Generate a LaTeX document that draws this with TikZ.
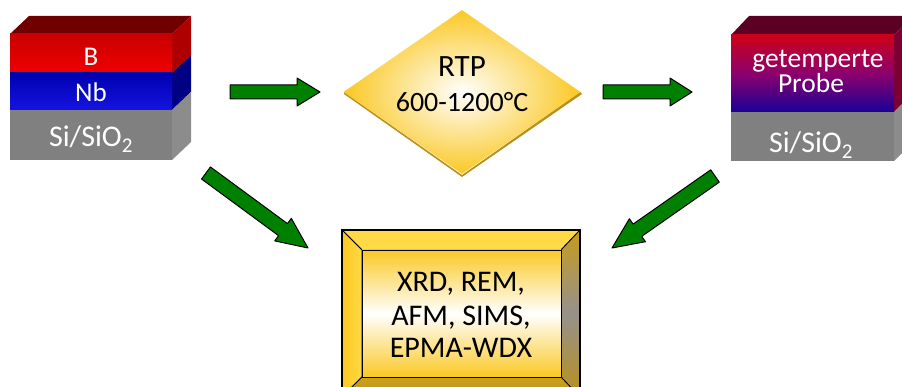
\documentclass[tikz,border=0pt]{standalone}
\usepackage{fontspec}
\setmainfont{Carlito}
\usetikzlibrary{calc,shapes.geometric}
\definecolor{arrgreen}{RGB}{0,128,0}
\definecolor{bred}{RGB}{240,0,0}
\definecolor{bredtop}{RGB}{200,0,0}
\definecolor{bside}{RGB}{175,0,0}
\definecolor{btop}{RGB}{112,0,0}
\definecolor{nbblue}{RGB}{20,20,225}
\definecolor{nbbluetop}{RGB}{0,0,175}
\definecolor{nbside}{RGB}{0,0,130}
\definecolor{sigray}{RGB}{128,128,128}
\definecolor{siside}{RGB}{140,140,140}
\definecolor{prred}{RGB}{205,0,25}
\definecolor{prmid}{RGB}{140,0,110}
\definecolor{prblue}{RGB}{25,0,150}
\definecolor{prtop}{RGB}{92,0,35}
\definecolor{prside}{RGB}{125,0,50}
\definecolor{gold}{RGB}{250,200,35}
\definecolor{goldlight}{RGB}{255,218,70}
\definecolor{golddark}{RGB}{185,145,25}
\definecolor{goldgray}{RGB}{150,145,140}
\tikzset{
  blockarrowstyle/.style={fill=arrgreen, draw=black, line width=1pt, line join=round},
  whitetext/.style={text=white, inner sep=0pt, anchor=base},
  blacktext/.style={text=black, inner sep=0pt, anchor=base},
  bevel/.style={draw=black, line width=0.8pt, line join=miter},
}
% #1 start, #2 tip, #3 head length, #4 head half width, #5 shaft half width
\newcommand\blockarrow[5]{%
  \coordinate (hb) at ($(#2)!#3!(#1)$);
  \draw[blockarrowstyle] ($(#1)!#5!90:(#2)$) -- ($(hb)!#5!90:(#2)$) -- ($(hb)!#4!90:(#2)$)
    -- (#2) -- ($(hb)!#4!-90:(#2)$) -- ($(hb)!#5!-90:(#2)$) -- ($(#1)!#5!-90:(#2)$) -- cycle;}
\begin{document}
\begin{tikzpicture}[x=1pt,y=-1pt]
\useasboundingbox (0,0) rectangle (902,387);
\clip (0,0) rectangle (902,387);

% ---------- left sample ----------
\node[minimum width=182pt, minimum height=144pt, inner sep=0pt] (sample) at (100,88) {};
\fill[btop] (10,34) -- (29,16) -- (191,16) -- (172,34) -- cycle;
\fill[bside] (172,34) -- (191,16) -- (191,55) -- (172,73) -- cycle;
\fill[nbside] (172,73) -- (191,55) -- (191,92) -- (172,110) -- cycle;
\fill[siside] (172,110) -- (191,92) -- (191,142) -- (172,160) -- cycle;
\shade[top color=bredtop, bottom color=bred] (10,34) rectangle (172,73);
\shade[top color=nbbluetop, bottom color=nbblue] (10,73) rectangle (172,110);
\fill[sigray] (10,110) rectangle (172,160);
\node[whitetext, font=\fontsize{27pt}{29pt}\selectfont] (lb) at (91,66) {B};
\node[whitetext, font=\fontsize{27pt}{29pt}\selectfont] (lnb) at (91,102) {Nb};
\node[whitetext, font=\fontsize{30pt}{32pt}\selectfont] (lsi) at (91,147) {Si/SiO\textsubscript{2}};

% ---------- RTP diamond ----------
\coordinate (dc) at (462,92);
\fill[golddark] (344,94) -- (462,177) -- (582,94) -- (580,92) -- (462,175) -- (344,92) -- cycle;
\node[diamond, inner sep=0pt, minimum width=237pt, minimum height=164pt,
      inner color=white, outer color=gold] (rtp) at (dc) {};
\node[blacktext, font=\fontsize{31pt}{33pt}\selectfont] (rtpa) at (462,77) {RTP};
\node[blacktext, font=\fontsize{28pt}{30pt}\selectfont] (rtpb) at (462,112) {600-1200°C};

% ---------- right sample ----------
\node[minimum width=182pt, minimum height=144pt, inner sep=0pt] (probe) at (820,88) {};
\fill[prtop] (731,35) -- (749,16) -- (912,16) -- (894,35) -- cycle;
\fill[prside] (894,35) -- (912,16) -- (912,94) -- (894,112) -- cycle;
\fill[siside] (894,112) -- (912,94) -- (912,143) -- (894,161) -- cycle;
\shade[top color=prred, bottom color=prblue, middle color=prmid] (731,35) rectangle (894,112);
\fill[sigray] (731,112) rectangle (894,161);
\node[whitetext, font=\fontsize{27.5pt}{29pt}\selectfont] (pa) at (818,68) {getemperte};
\node[whitetext, font=\fontsize{27.5pt}{29pt}\selectfont] (pb) at (811,93) {Probe};
\node[whitetext, font=\fontsize{30pt}{32pt}\selectfont] (psi) at (811,153) {Si/SiO\textsubscript{2}};

% ---------- analysis box ----------
\node[minimum width=238pt, minimum height=167pt, inner sep=0pt] (ana) at (461,313) {};
\fill[goldlight, bevel] (342,230) -- (580,230) -- (561,250) -- (362,250) -- cycle;
\shade[bevel, left color=gold, right color=goldlight] (342,230) -- (362,250) -- (362,377) -- (342,397) -- cycle;
\shade[bevel, top color=golddark!80!gold, bottom color=golddark, middle color=goldgray] (580,230) -- (580,397) -- (561,377) -- (561,250) -- cycle;
\shade[bevel, top color=golddark!70!gold, bottom color=golddark] (362,377) -- (561,377) -- (580,397) -- (342,397) -- cycle;
\shade[bevel, top color=gold, bottom color=gold, middle color=white] (362,250) rectangle (561,377);
\draw[black, line width=1.2pt] (342,230) rectangle (580,397);
\node[blacktext, font=\fontsize{30pt}{32pt}\selectfont] (ta) at (461,292) {XRD, REM,};
\node[blacktext, font=\fontsize{30pt}{32pt}\selectfont] (tb) at (461,325) {AFM, SIMS,};
\node[blacktext, font=\fontsize{30pt}{32pt}\selectfont] (tc) at (461,357) {EPMA-WDX};

% ---------- arrows ----------
\coordinate (a1s) at (230,92);  \coordinate (a1t) at (320,92);
\coordinate (a2s) at (603,92);  \coordinate (a2t) at (692,92);
\coordinate (a3s) at (206,173); \coordinate (a3t) at (308,248);
\coordinate (a4s) at (715,176); \coordinate (a4t) at (612,248);
\blockarrow{a1s}{a1t}{23pt}{14pt}{7pt}
\blockarrow{a2s}{a2t}{22pt}{14pt}{7pt}
\blockarrow{a3s}{a3t}{31pt}{14pt}{7.5pt}
\blockarrow{a4s}{a4t}{31pt}{14pt}{7.5pt}
\end{tikzpicture}
\end{document}
